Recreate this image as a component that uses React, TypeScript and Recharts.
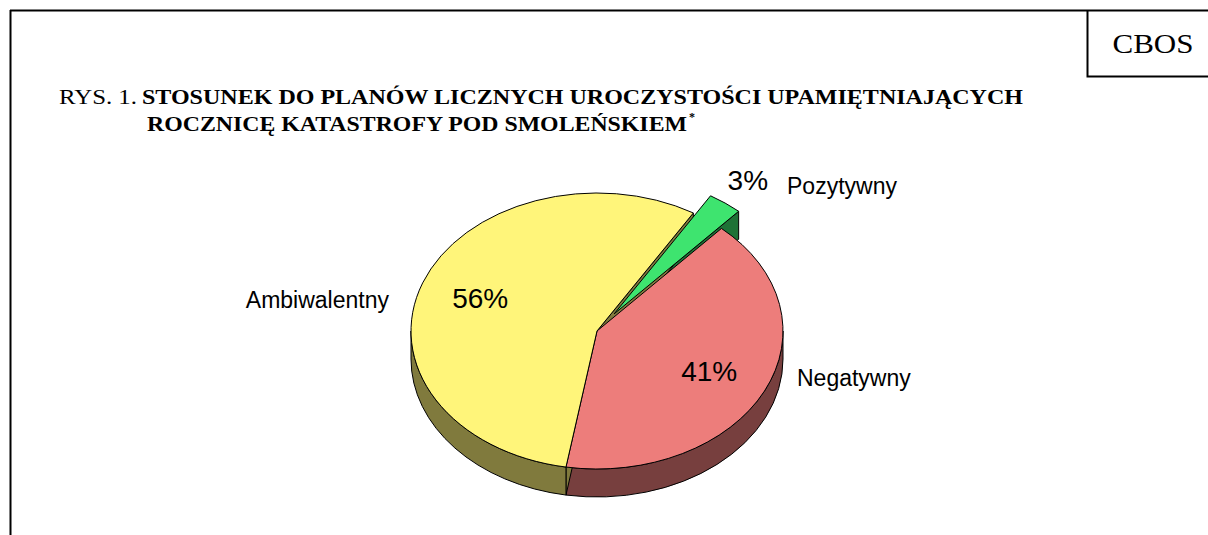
import React from "react";
import { Pie, PieChart } from "recharts";

// survey answers (percent)
const CATEGORIES = ["Negatywny", "Pozytywny", "Ambiwalentny"];
const VALUES = [41, 3, 56];

const TOP_COLORS = ["#ED7D7B", "#3EE46F", "#FFF57A"];
const SIDE_COLORS = ["#773F3E", "#1E7236", "#807A3D"];
const EXPLODE = [0, 0.155, 0];

// pie geometry (tilted ellipse)
const CX = 597;
const CY = 331;
const RX = 186;
const RY_RATIO = 138 / 186;
const DEPTH = 28;
const START_ANGLE = -99.6;

// label placement, relative to the pie
const PCT_RADIUS = [0.67, 1.36, 0.67];
const NAME_POS = [
  { dx: 200, dy: 47, anchor: "start" },
  { dx: 190, dy: -145, anchor: "start" },
  { dx: -208, dy: -31, anchor: "end" },
];

const SANS = "'Liberation Sans', Arial, sans-serif";
const SERIF = "'Liberation Serif', 'Times New Roman', serif";

const rows = CATEGORIES.map((name, idx) => ({ name, value: VALUES[idx], idx }));

const rad = (d: number) => (d * Math.PI) / 180;

function geom(p: any) {
  const i: number = p.payload?.idx ?? p.index ?? 0;
  const r: number = p.outerRadius;
  const ry = r * RY_RATIO;
  const mid = rad((p.startAngle + p.endAngle) / 2);
  const ox = EXPLODE[i] * r * Math.cos(mid);
  const oy = -EXPLODE[i] * ry * Math.sin(mid);
  const cx = p.cx + ox;
  const cy = p.cy + oy;
  const pt = (deg: number, down = 0) =>
    `${cx + r * Math.cos(rad(deg))},${cy - ry * Math.sin(rad(deg)) + down}`;
  return { i, r, ry, cx, cy, pt };
}

function TopFace(p: any) {
  const { i, r, ry, cx, cy, pt } = geom(p);
  const s = p.startAngle;
  const e = p.endAngle;
  const large = e - s > 180 ? 1 : 0;
  const d = `M${cx},${cy} L${pt(s)} A${r},${ry} 0 ${large} 0 ${pt(e)} Z`;
  return <path d={d} fill={TOP_COLORS[i]} stroke="#000" strokeWidth={1} strokeLinejoin="round" />;
}

function SideFaces(p: any) {
  const { i, r, ry, cx, cy, pt } = geom(p);
  const s = p.startAngle;
  const e = p.endAngle;
  const parts: React.ReactNode[] = [];
  const face = (a: number, key: string) => (
    <path
      key={key}
      d={`M${cx},${cy} L${pt(a)} L${pt(a, DEPTH)} L${cx},${cy + DEPTH} Z`}
      fill={SIDE_COLORS[i]}
      stroke="#000"
      strokeWidth={1}
      strokeLinejoin="round"
    />
  );
  if (Math.cos(rad(s)) > 0) parts.push(face(s, "s"));
  if (Math.cos(rad(e)) < 0) parts.push(face(e, "e"));
  // front half of the rim
  for (let k = -1; k <= 1; k++) {
    const a1 = Math.max(s, 180 + 360 * k);
    const a2 = Math.min(e, 360 + 360 * k);
    if (a2 - a1 > 0.01) {
      parts.push(
        <path
          key={`w${k}`}
          d={`M${pt(a1)} A${r},${ry} 0 0 0 ${pt(a2)} L${pt(a2, DEPTH)} A${r},${ry} 0 0 1 ${pt(a1, DEPTH)} Z`}
          fill={SIDE_COLORS[i]}
          stroke="#000"
          strokeWidth={1}
          strokeLinejoin="round"
        />
      );
    }
  }
  return <g>{parts}</g>;
}

function renderLabel(p: any) {
  const i: number = p.payload?.idx ?? p.index ?? 0;
  const t = rad(p.midAngle);
  const k = PCT_RADIUS[i];
  const x = p.cx + p.outerRadius * k * Math.cos(t);
  const y = p.cy - p.outerRadius * RY_RATIO * k * Math.sin(t);
  const o = NAME_POS[i];
  return (
    <g key={`lbl-${i}`}>
      <text x={x} y={y} textAnchor="middle" dominantBaseline="central" fontSize={28} fontFamily={SANS} fill="#000">
        {VALUES[i]}%
      </text>
      <text
        x={p.cx + o.dx}
        y={p.cy + o.dy}
        textAnchor={o.anchor as any}
        dominantBaseline="central"
        fontSize={23}
        fontFamily={SANS}
        fill="#000"
      >
        {CATEGORIES[i]}
      </text>
    </g>
  );
}

export default function App() {
  return (
    <div style={{ position: "relative", width: 1208, height: 535, background: "#fff", overflow: "hidden" }}>
      <style>{"body{margin:0}"}</style>
      <PieChart width={1208} height={535} margin={{ top: 0, right: 0, bottom: 0, left: 0 }} style={{ position: "absolute", left: 0, top: 0 }}>
        <Pie
          data={rows}
          dataKey="value"
          nameKey="name"
          cx={CX}
          cy={CY}
          outerRadius={RX}
          startAngle={START_ANGLE}
          endAngle={START_ANGLE + 360}
          stroke="none"
          shape={SideFaces}
          isAnimationActive={false}
        />
        <Pie
          data={rows}
          dataKey="value"
          nameKey="name"
          cx={CX}
          cy={CY}
          outerRadius={RX}
          startAngle={START_ANGLE}
          endAngle={START_ANGLE + 360}
          stroke="none"
          shape={TopFace}
          label={renderLabel}
          labelLine={false}
          isAnimationActive={false}
        />
      </PieChart>
      <svg width={1208} height={535} style={{ position: "absolute", left: 0, top: 0, pointerEvents: "none" }}>
        <path d="M10,10.5 H1208 M10.5,10 V535" stroke="#000" strokeWidth={2} fill="none" />
        <path d="M1087.5,10 V76.5 H1208" stroke="#000" strokeWidth={2} fill="none" />
        <text x={1153} y={53} textAnchor="middle" fontFamily={SERIF} fontSize={28} textLength={81} lengthAdjust="spacingAndGlyphs">
          CBOS
        </text>
        <text x={59} y={104} fontFamily={SERIF} fontSize={20} textLength={78} lengthAdjust="spacingAndGlyphs">
          RYS. 1.
        </text>
        <text x={142} y={104} fontFamily={SERIF} fontSize={20} fontWeight="bold" textLength={881} lengthAdjust="spacingAndGlyphs">
          STOSUNEK DO PLANÓW LICZNYCH UROCZYSTOŚCI UPAMIĘTNIAJĄCYCH
        </text>
        <text x={147} y={131} fontFamily={SERIF} fontSize={20} fontWeight="bold" textLength={540} lengthAdjust="spacingAndGlyphs">
          ROCZNICĘ KATASTROFY POD SMOLEŃSKIEM
        </text>
        <text x={689} y={121} fontFamily={SERIF} fontSize={12} fontWeight="bold">
          *
        </text>
      </svg>
    </div>
  );
}
